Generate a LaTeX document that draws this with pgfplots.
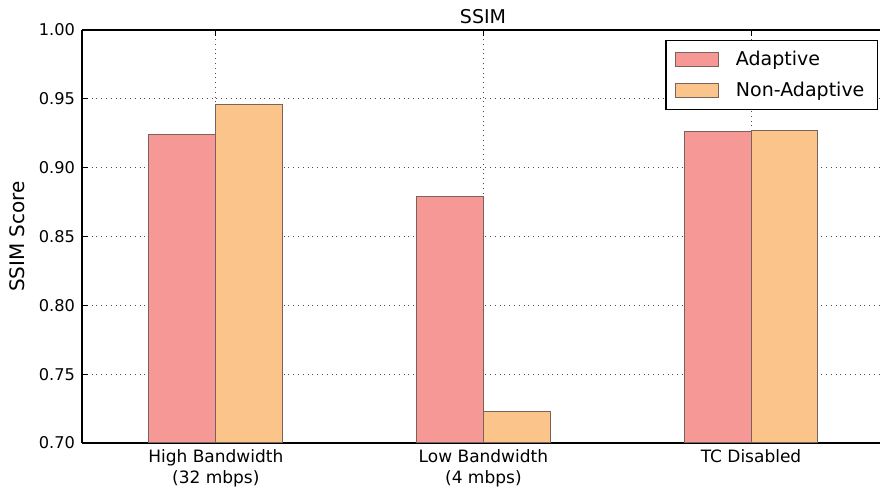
\documentclass[border=0pt]{standalone}
\usepackage{pgfplots}
\pgfplotsset{compat=1.18}
\usepackage{fontspec}
\setmainfont{DejaVu Sans}
\definecolor{adapt}{RGB}{245,152,150}
\definecolor{nonadapt}{RGB}{250,196,138}
\definecolor{edgec}{RGB}{120,100,90}
\begin{document}
\begin{tikzpicture}
\begin{axis}[
  name=ax,
  scale only axis,
  width=399pt, height=206.5pt,
  xmin=-0.5, xmax=2.482,
  ymin=0.70, ymax=1.00,
  axis y line*=left,
  axis x line=box,
  xtick={0,1,2},
  xticklabels={{High Bandwidth\\(32 mbps)},{Low Bandwidth\\(4 mbps)},{TC Disabled}},
  xticklabel style={align=center, font=\fontsize{8.5}{10.2}\selectfont},
  ytick={0.70,0.75,0.80,0.85,0.90,0.95,1.00},
  yticklabel style={font=\fontsize{8.1}{9}\selectfont, /pgf/number format/.cd, fixed, fixed zerofill, precision=2},
  /pgf/number format/assume math mode=true,
  tick align=inside,
  tick pos=both,
  major tick length=3pt,
  tick style={black, line width=0.4pt},
  grid=major,
  grid style={dotted, black!70, line width=0.5pt},
  axis line style={black, line width=0.6pt},
  ylabel={SSIM Score},
  ylabel style={font=\fontsize{7.6}{8}\selectfont},
  every axis y label/.style={at={(ticklabel cs:0.5)}, rotate=90, anchor=near ticklabel},
  every axis title/.style={at={(0.5025,1)}, anchor=base, yshift=3.2pt, font=\fontsize{9.5}{10}\selectfont},
  title={SSIM},
  bar width=0.25,
  legend style={at={(rel axis cs:0.9975,0.9758)}, anchor=north east, draw=black, line width=0.6pt,
    font=\fontsize{9.5}{11}\selectfont, row sep=2.6pt, inner xsep=4.5pt, inner ysep=3.2pt},
  legend cell align=left,
  legend image code/.code={\draw[#1, line width=0.5pt] (0pt,-3.5pt) rectangle (21.5pt,3.5pt); \path (28pt,0pt);},
  clip=false,
]
\addplot[ybar, bar shift=-0.125, fill=adapt, draw=edgec, line width=0.5pt]
  coordinates {(0,0.924) (1,0.879) (2,0.926)};
\addlegendentry{Adaptive}
\addplot[ybar, bar shift=0.125, fill=nonadapt, draw=edgec, line width=0.5pt]
  coordinates {(0,0.946) (1,0.723) (2,0.927)};
\addlegendentry{Non-Adaptive\hspace{4pt}}
\end{axis}
\pgfresetboundingbox
\path[use as bounding box] ([xshift=-41pt,yshift=-24.5pt]ax.south west) rectangle ([yshift=15pt]ax.north east);
\end{tikzpicture}
\end{document}
